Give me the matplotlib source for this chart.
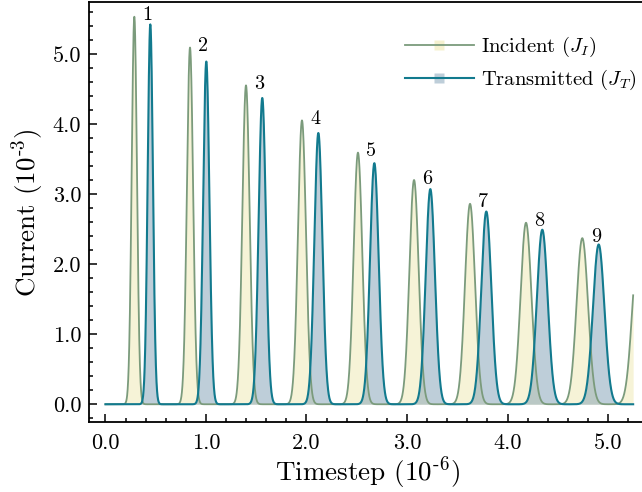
import numpy as np
import matplotlib
matplotlib.use("Agg")
import matplotlib.pyplot as plt
from matplotlib.lines import Line2D
import matplotlib.ticker as mticker

plt.rcParams["font.family"] = "serif"
plt.rcParams["font.serif"] = ["cmr10"]
plt.rcParams["mathtext.fontset"] = "cm"
plt.rcParams["axes.formatter.use_mathtext"] = True
plt.rcParams["axes.unicode_minus"] = False

# pulse parameters (timestep in 1e-6, current in 1e-3)
inc_centre = [0.287, 0.841, 1.398, 1.955, 2.512, 3.070, 3.627, 4.184, 4.744, 5.300]
inc_peak = [5.53, 5.09, 4.55, 4.05, 3.59, 3.20, 2.86, 2.59, 2.37, 2.20]
trn_centre = [0.446, 1.003, 1.560, 2.118, 2.675, 3.232, 3.789, 4.346, 4.907]
trn_peak = [5.42, 4.89, 4.37, 3.87, 3.44, 3.07, 2.75, 2.49, 2.28]
pulse_sigma = [0.026, 0.031, 0.036, 0.040, 0.043, 0.046, 0.050, 0.054, 0.057, 0.060]
t_end = 5.25
pulse_labels = [str(i) for i in range(1, 10)]

c_inc_line = "#7b9b7c"
c_inc_fill = "#efe8b0"
c_trn_line = "#127a8e"
c_trn_fill = "#7f9fb5"

t = np.linspace(0.0, t_end, 4000)


def train(centres, peaks, sigmas):
    out = np.zeros_like(t)
    for c, a, s in zip(centres, peaks, sigmas):
        out += a * np.exp(-0.5 * ((t - c) / s) ** 2)
    return out


j_inc = train(inc_centre, inc_peak, pulse_sigma)
j_trn = train(trn_centre, trn_peak, pulse_sigma)

fig = plt.figure(figsize=(6.42, 4.92), dpi=100)
ax = fig.add_axes([0.1394, 0.1413, 0.8653, 0.8546])

ax.fill_between(t, 0, j_inc, color=c_inc_fill, alpha=0.5, lw=0)
ax.fill_between(t, 0, j_trn, color=c_trn_fill, alpha=0.5, lw=0)
ax.plot(t, j_inc, color=c_inc_line, lw=1.3)
ax.plot(t, j_trn, color=c_trn_line, lw=1.5)

for lab, c, a in zip(pulse_labels, inc_centre, inc_peak):
    ax.annotate(lab, (c, a), xytext=(6, 1), textcoords="offset points",
                fontsize=14.5, ha="left", va="center")

ax.set_xlim(-0.159, 5.368)
ax.set_ylim(-0.26, 5.739)
ax.xaxis.set_major_locator(mticker.MultipleLocator(1.0))
ax.xaxis.set_minor_locator(mticker.MultipleLocator(0.2))
ax.yaxis.set_major_locator(mticker.MultipleLocator(1.0))
ax.yaxis.set_minor_locator(mticker.MultipleLocator(0.2))
ax.xaxis.set_major_formatter(mticker.FormatStrFormatter("%.1f"))
ax.yaxis.set_major_formatter(mticker.FormatStrFormatter("%.1f"))
ax.tick_params(which="both", direction="in", top=False, right=False,
               labelsize=16, width=1.1)
ax.tick_params(which="major", length=6)
ax.tick_params(which="minor", length=3)
ax.tick_params(axis="x", which="major", pad=8)
ax.tick_params(axis="y", which="major", pad=6)
for s in ax.spines.values():
    s.set_linewidth(1.3)

ax.set_xlabel(r"Timestep (10$^{\text{-}6}$)", fontsize=19.5, labelpad=1)
ax.set_ylabel(r"Current (10$^{\text{-}3}$)", fontsize=19.5, labelpad=5)

# legend handles: line with a small square of the fill colour
h_inc = (Line2D([], [], ls="none", marker="s", ms=7, mec="none",
                mfc=c_inc_fill, alpha=0.6),
         Line2D([], [], color=c_inc_line, lw=1.3))
h_trn = (Line2D([], [], ls="none", marker="s", ms=7, mec="none",
                mfc=c_trn_fill, alpha=0.5),
         Line2D([], [], color=c_trn_line, lw=1.5))
ax.legend([h_inc, h_trn], [r"Incident ($J_I$)", r"Transmitted ($J_T$)"],
          loc="upper left", bbox_to_anchor=(405 / 642, 1 - 35 / 492),
          bbox_transform=fig.transFigure, frameon=False, fontsize=14.8,
          handlelength=3.35, handletextpad=0.33, labelspacing=0.42,
          borderpad=0, borderaxespad=0)

fig.savefig("out.png", dpi=100)
